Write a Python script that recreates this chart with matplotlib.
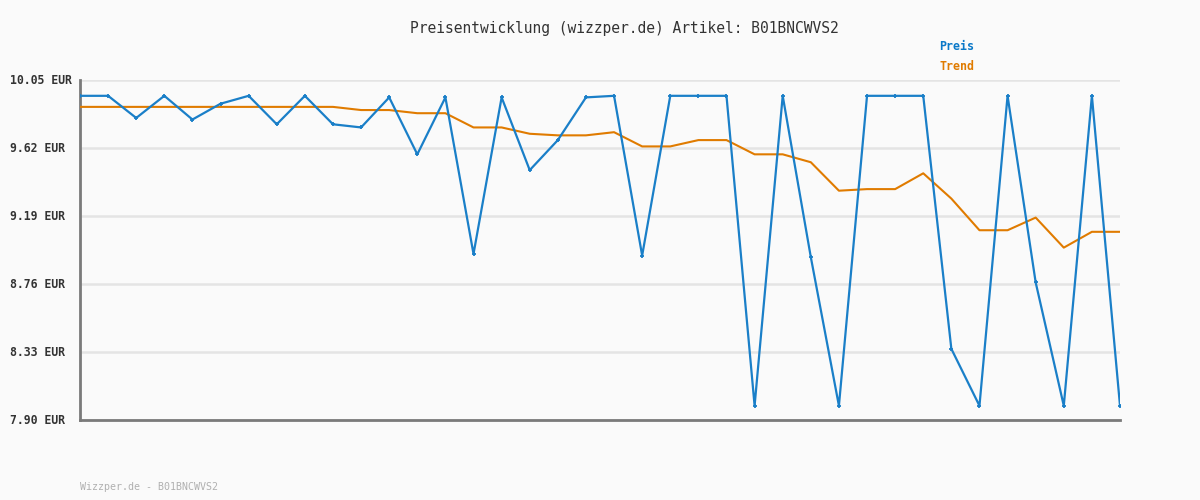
import matplotlib
matplotlib.use("Agg")
from matplotlib import pyplot

# price history, 38 samples
preis = [9.95, 9.95, 9.81, 9.95, 9.80, 9.90, 9.95, 9.77, 9.95, 9.77,
         9.75, 9.94, 9.58, 9.94, 8.95, 9.94, 9.48, 9.67, 9.94, 9.95,
         8.94, 9.95, 9.95, 9.95, 7.99, 9.95, 8.93, 7.99, 9.95, 9.95,
         9.95, 8.35, 7.99, 9.95, 8.77, 7.99, 9.95, 7.99]
trend = [9.88, 9.88, 9.88, 9.88, 9.88, 9.88, 9.88, 9.88, 9.88, 9.88,
         9.86, 9.86, 9.84, 9.84, 9.75, 9.75, 9.71, 9.70, 9.70, 9.72,
         9.63, 9.63, 9.67, 9.67, 9.58, 9.58, 9.53, 9.35, 9.36, 9.36,
         9.46, 9.30, 9.10, 9.10, 9.18, 8.99, 9.09, 9.09]
yticks = [7.90, 8.33, 8.76, 9.19, 9.62, 10.05]
artikel = "B01BNCWVS2"

blue = "#1a7fc8"
orange = "#e07b00"
mono = "DejaVu Sans Mono"

fig = pyplot.figure(figsize=(12, 5), dpi=100, facecolor="#fafafa")
ax = fig.add_axes([80/1200, 80/500, 1040/1200, 340/500])
ax.set_facecolor("#fafafa")

x = list(range(len(preis)))
ax.plot(x, trend, color=orange, lw=1.5, zorder=3)
ax.plot(x, preis, color=blue, lw=1.6, marker="+", markersize=3.2, mew=1.3, zorder=4)

ax.set_xlim(0, len(preis) - 1)
ax.set_ylim(yticks[0], yticks[-1])
ax.set_yticks(yticks)
ax.set_yticklabels([])
ax.set_xticks([])
ax.tick_params(length=0)
ax.grid(axis="y", color="#e4e4e4", lw=1.8)
ax.set_axisbelow(True)
for s in ["top", "right"]:
    ax.spines[s].set_visible(False)
for s in ["left", "bottom"]:
    ax.spines[s].set_color("#7a7a7a")
    ax.spines[s].set_linewidth(2)

for v in yticks:
    fy = 1 - (80 + (yticks[-1] - v) / (yticks[-1] - yticks[0]) * 340) / 500
    fig.text(10/1200, fy, "%.2f EUR" % v, ha="left", va="center", fontsize=8.3,
             fontweight="bold", color="#333333", family=mono)

fig.text(624/1200, 1 - 28/500, "Preisentwicklung (wizzper.de) Artikel: " + artikel,
         ha="center", va="center", fontsize=10.5, color="#333333", family=mono)
fig.text(939/1200, 1 - 46/500, "Preis", ha="left", va="center", fontsize=8.4,
         fontweight="bold", color="#0a78c8", family=mono)
fig.text(939/1200, 1 - 67/500, "Trend", ha="left", va="center", fontsize=8.4,
         fontweight="bold", color=orange, family=mono)
fig.text(80/1200, 1 - 487/500, "Wizzper.de - " + artikel, ha="left", va="center",
         fontsize=7.2, color="#b0b0b0", family=mono)

pyplot.savefig("out.png", dpi=100, facecolor=fig.get_facecolor())
